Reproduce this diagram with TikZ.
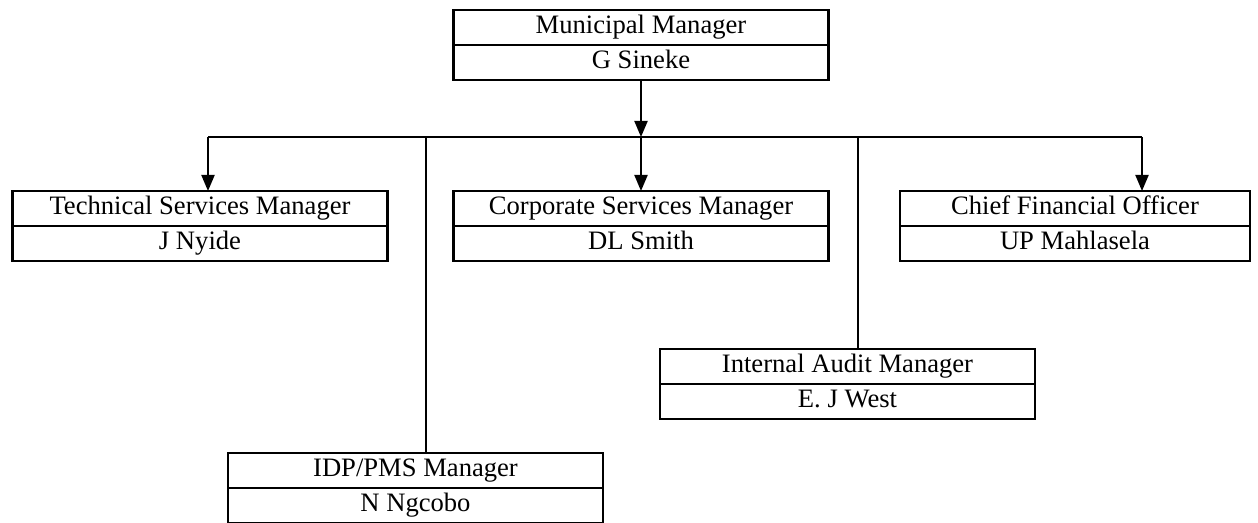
\documentclass[tikz,border=0pt]{standalone}
\usepackage{fontspec}
\setmainfont{Liberation Serif}
\usetikzlibrary{positioning,arrows.meta}
\begin{document}
\begin{tikzpicture}[x=0.5pt,y=-0.5pt,every node/.style={font=\fontsize{13.3}{16}\selectfont},
  post/.style={draw,line width=1.2pt,minimum width=187.5pt,minimum height=17.5pt,text height=9.2pt,text depth=2.8pt,inner sep=0pt,outer sep=0pt},
  link/.style={line width=1pt},
  arr/.style={link,-{Triangle[length=8pt,width=6.5pt]}}]
\useasboundingbox (0,0) rectangle (1258,523);
% top of the chart
\node[post] (mm) at (641,27.5) {Municipal Manager}; \node[post,below=0pt of mm] (mmname) {G Sineke};
% first row
\node[post] (tsm) at (200,208.5) {Technical Services Manager}; \node[post,below=0pt of tsm] (tsmname) {J Nyide};
\node[post] (csm) at (641,208.5) {Corporate Services Manager}; \node[post,below=0pt of csm] (csmname) {DL Smith};
\node[post,minimum width=175pt] (cfo) at (1075,208.5) {Chief Financial Officer}; \node[post,minimum width=175pt,below=0pt of cfo] (cfoname) {UP Mahlasela};
% lower posts
\node[post] (iam) at (847.5,366.5) {Internal Audit Manager}; \node[post,below=0pt of iam] (iamname) {E. J West};
\node[post] (idp) at (415.5,470.5) {IDP/PMS Manager}; \node[post,below=0pt of idp] (idpname) {N Ngcobo};
% connectors
\coordinate (bus) at (641,137);
\coordinate (tsmin) at ([xshift=4pt]tsm.north); \coordinate (cfoin) at ([xshift=33.5pt]cfo.north);
\coordinate (idpin) at ([xshift=5pt]idp.north); \coordinate (iamin) at ([xshift=5pt]iam.north);
\draw[arr] (mmname.south) -- (bus);
\draw[link] (bus -| tsmin) -- (bus -| cfoin);
\draw[arr] (bus -| tsmin) -- (tsmin);
\draw[arr] (bus) -- (csm.north);
\draw[arr] (bus -| cfoin) -- (cfoin);
\draw[link] (bus -| idpin) -- (idpin);
\draw[link] (bus -| iamin) -- (iamin);
\end{tikzpicture}
\end{document}
